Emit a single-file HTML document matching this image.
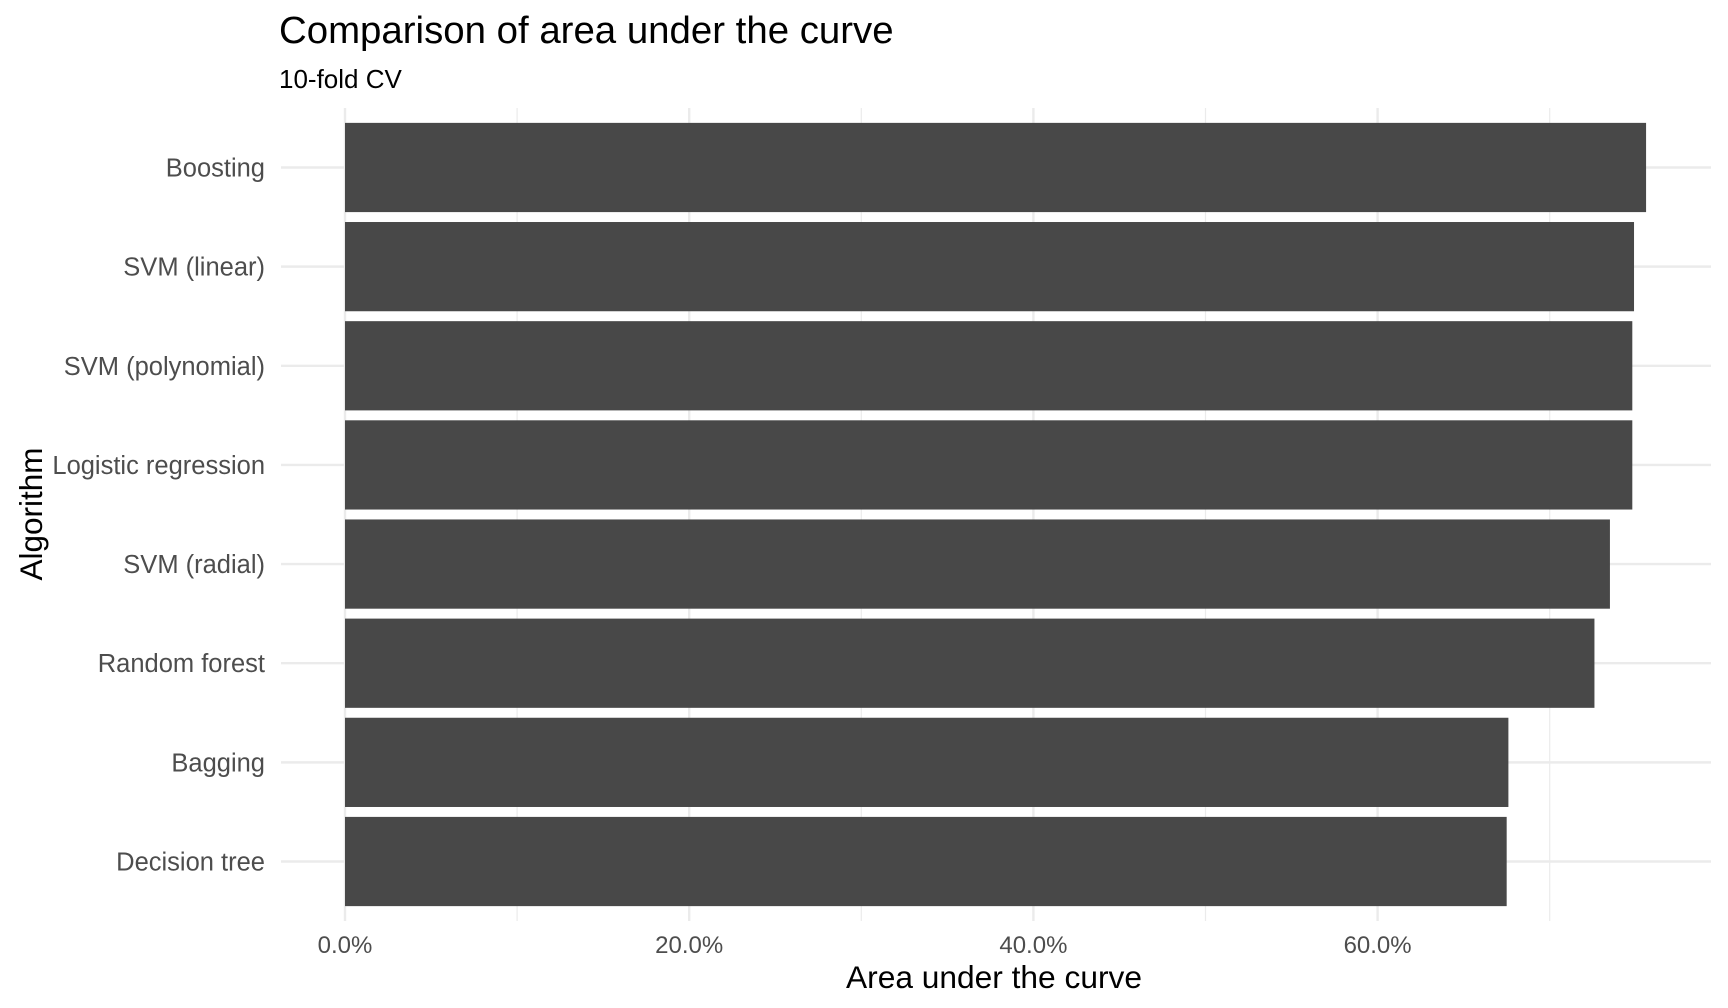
<!DOCTYPE html>
<html><head><meta charset="utf-8"><style>
html,body{margin:0;padding:0;background:#fff;}
svg{display:block;font-family:"Liberation Sans",Arial,sans-serif;}
</style></head><body>
<svg id="chart" width="1728" height="1008" viewBox="0 0 1728 1008">
<text x="279" y="43" font-size="38.4" fill="#000">Comparison of area under the curve</text>
<text x="279" y="88" font-size="26" fill="#000">10-fold CV</text>
<g id="grid"></g>
<g id="bars"></g>
<g id="xticks"></g>
<g id="yticks"></g>
<text x="994" y="988" font-size="31.7" text-anchor="middle" fill="#000">Area under the curve</text>
<text transform="translate(42,514) rotate(-90)" font-size="31.5" text-anchor="middle" fill="#000">Algorithm</text>
</svg>
<script>
const categories = ["Boosting","SVM (linear)","SVM (polynomial)","Logistic regression","SVM (radial)","Random forest","Bagging","Decision tree"];
const aucValues = [75.6,74.9,74.8,74.8,73.5,72.6,67.6,67.5];
const majorTicks = [0,20,40,60];
const tickLabels = ["0.0%","20.0%","40.0%","60.0%"];
const minorTicks = [10,30,50,70];

const NS="http://www.w3.org/2000/svg";
const panel={l:281,x0:345,r:1711,t:108,b:921};
const pxPerUnit=17.21;
function xs(v){return panel.x0+v*pxPerUnit;}
const band=(panel.b-panel.t)/(categories.length+0.2);
function yc(i){return panel.t+band*(0.6+i);}
function mk(tag,attrs,parent){const e=document.createElementNS(NS,tag);for(const k in attrs)e.setAttribute(k,attrs[k]);parent.appendChild(e);return e;}
const grid=document.getElementById('grid');
minorTicks.forEach(v=>{
  const l=mk('line',{x1:xs(v),x2:xs(v),y1:panel.t,y2:panel.b,stroke:'#ebebeb','stroke-width':1.2},grid);
  
  
});
majorTicks.forEach(v=>{
  const l=mk('line',{x1:xs(v),x2:xs(v),y1:panel.t,y2:panel.b,stroke:'#ebebeb','stroke-width':2.4},grid);
  
  
});
categories.forEach((c,i)=>{
  const l=mk('line',{x1:panel.l,x2:panel.r,y1:yc(i),y2:yc(i),stroke:'#ebebeb','stroke-width':2.4},grid);
  
  
});
const bars=document.getElementById('bars');
aucValues.forEach((v,i)=>{
  const h=band*0.9;
  const r=mk('rect',{x:xs(0),y:yc(i)-h/2,width:xs(v)-xs(0),height:h,fill:'#484848'},bars);
  
  
});
const xt=document.getElementById('xticks');
majorTicks.forEach((v,i)=>{
  const t=mk('text',{x:xs(v),y:953,'font-size':24,'text-anchor':'middle',fill:'#4d4d4d'},xt);
  t.textContent=tickLabels[i];
  
  
});
const yt=document.getElementById('yticks');
categories.forEach((c,i)=>{
  const t=mk('text',{x:265,y:yc(i)+9,'font-size':25.5,'text-anchor':'end',fill:'#4d4d4d'},yt);
  t.textContent=c;
  
  
});
</script>
</body></html>
